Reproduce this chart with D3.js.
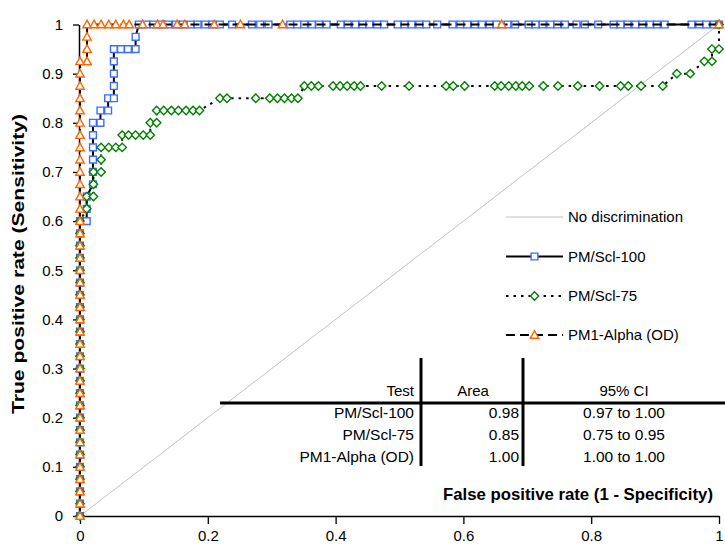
<!DOCTYPE html>
<html>
<head>
<meta charset="utf-8">
<script src="https://cdn.jsdelivr.net/npm/d3@7/dist/d3.min.js"></script>
<style>
  body { margin: 0; background: #fff; }
  text { font-family: "Liberation Sans", Arial, sans-serif; }
</style>
</head>
<body>
<svg id="chart" width="725" height="549"></svg>
<script>
// ROC points: [false positive rate, true positive rate]
let rocPm100 = [
  [0,0],[0,0.025],[0,0.05],[0,0.075],[0,0.1],[0,0.125],[0,0.15],[0,0.175],[0,0.2],
  [0,0.225],[0,0.25],[0,0.275],[0,0.3],[0,0.325],[0,0.35],[0,0.375],[0,0.4],[0,0.425],
  [0,0.45],[0,0.475],[0,0.5],[0,0.525],[0,0.55],[0,0.575],[0,0.6],
  [0.0105,0.6],[0.0105,0.625],[0.0105,0.65],[0.0203,0.675],[0.0203,0.7],[0.0203,0.725],
  [0.0203,0.75],[0.0203,0.775],[0.0203,0.8],[0.032,0.8],[0.032,0.825],[0.044,0.825],
  [0.044,0.85],[0.053,0.85],[0.053,0.875],[0.053,0.9],[0.053,0.925],[0.053,0.95],
  [0.064,0.95],[0.075,0.95],[0.087,0.95],[0.087,0.975],
  [0.092,1],[0.104,1],[0.115,1],[0.127,1],[0.138,1],[0.15,1],[0.161,1],[0.173,1],
  [0.184,1],[0.196,1],[0.207,1],[0.219,1],[0.238,1],[0.269,1],[0.282,1],[0.295,1],
  [0.329,1],[0.34,1],[0.351,1],[0.363,1],[0.374,1],[0.386,1],[0.408,1],[0.419,1],
  [0.431,1],[0.442,1],[0.453,1],[0.465,1],[0.476,1],[0.497,1],[0.508,1],[0.519,1],
  [0.531,1],[0.542,1],[0.559,1],[0.583,1],[0.595,1],[0.606,1],[0.618,1],[0.629,1],
  [0.641,1],[0.652,1],[0.669,1],[0.681,1],[0.702,1],[0.713,1],[0.724,1],[0.736,1],
  [0.747,1],[0.759,1],[0.777,1],[0.79,1],[0.811,1],[0.835,1],[0.846,1],[0.857,1],
  [0.869,1],[0.88,1],[0.892,1],[0.903,1],[0.915,1],[0.957,1],[0.969,1],[0.98,1],
  [0.992,1],[1,1]
];

let rocPm75 = [
  [0,0],[0,0.025],[0,0.05],[0,0.075],[0,0.1],[0,0.125],[0,0.15],[0,0.175],[0,0.2],
  [0,0.225],[0,0.25],[0,0.275],[0,0.3],[0,0.325],[0,0.35],[0,0.375],[0,0.4],[0,0.425],
  [0,0.45],[0,0.475],[0,0.5],[0,0.525],[0,0.55],[0,0.575],[0,0.6],
  [0.0105,0.625],[0.0105,0.65],[0.021,0.65],[0.021,0.675],[0.021,0.7],[0.033,0.7],
  [0.033,0.725],[0.033,0.75],[0.045,0.75],[0.056,0.75],[0.066,0.75],[0.066,0.775],
  [0.076,0.775],[0.087,0.775],[0.099,0.775],[0.11,0.775],[0.11,0.8],[0.12,0.8],
  [0.12,0.825],[0.131,0.825],[0.143,0.825],[0.154,0.825],[0.166,0.825],[0.177,0.825],
  [0.187,0.825],[0.219,0.85],[0.23,0.85],[0.275,0.85],[0.297,0.85],[0.309,0.85],
  [0.32,0.85],[0.331,0.85],[0.341,0.85],[0.351,0.875],[0.362,0.875],[0.373,0.875],
  [0.396,0.875],[0.407,0.875],[0.418,0.875],[0.429,0.875],[0.439,0.875],[0.472,0.875],
  [0.515,0.875],[0.573,0.875],[0.584,0.875],[0.602,0.875],[0.649,0.875],[0.659,0.875],
  [0.671,0.875],[0.682,0.875],[0.692,0.875],[0.703,0.875],[0.725,0.875],[0.748,0.875],
  [0.779,0.875],[0.813,0.875],[0.846,0.875],[0.858,0.875],[0.878,0.875],[0.912,0.875],
  [0.934,0.9],[0.955,0.9],[0.977,0.925],[0.989,0.925],[0.989,0.95],[1,0.95],[1,1]
];

let rocAlpha = [
  [0,0],[0,0.025],[0,0.05],[0,0.075],[0,0.1],[0,0.125],[0,0.15],[0,0.175],[0,0.2],
  [0,0.225],[0,0.25],[0,0.275],[0,0.3],[0,0.325],[0,0.35],[0,0.375],[0,0.4],[0,0.425],
  [0,0.45],[0,0.475],[0,0.5],[0,0.525],[0,0.55],[0,0.575],[0,0.6],[0,0.625],[0,0.65],
  [0,0.675],[0,0.7],[0,0.725],[0,0.75],[0,0.775],[0,0.8],[0,0.825],[0,0.85],[0,0.875],
  [0,0.9],[0,0.925],[0.011,0.925],[0.011,0.95],[0.011,0.975],[0.011,1],[0.022,1],
  [0.033,1],[0.045,1],[0.056,1],[0.068,1],[0.077,1],[0.098,1],[0.121,1],[0.13,1],
  [0.152,1],[0.164,1],[0.21,1],[0.251,1],[0.317,1],[0.66,1],[1,1]
];

let noDiscrimination = [[0,0],[1,1]];

let legendNames = ["No discrimination", "PM/Scl-100", "PM/Scl-75", "PM1-Alpha (OD)"];

let xTicks = [0, 0.2, 0.4, 0.6, 0.8, 1];
let xTickLabels = ["0", "0.2", "0.4", "0.6", "0.8", "1"];
let yTicks = [0, 0.1, 0.2, 0.3, 0.4, 0.5, 0.6, 0.7, 0.8, 0.9, 1];
let yTickLabels = ["0", "0.1", "0.2", "0.3", "0.4", "0.5", "0.6", "0.7", "0.8", "0.9", "1"];

let tableHeader = ["Test", "Area", "95% CI"];
let tableTests = ["PM/Scl-100", "PM/Scl-75", "PM1-Alpha (OD)"];
let tableAreas = ["0.98", "0.85", "1.00"];
let tableCIs = ["0.97 to 1.00", "0.75 to 0.95", "1.00 to 1.00"];

let xTitle = "False positive rate (1 - Specificity)";
let yTitle = "True positive rate (Sensitivity)";

let svg = d3.select("#chart");
let fontSize = 15;

let xScale = d3.scaleLinear().domain([0, 1]).range([80, 719]);
let yScale = d3.scaleLinear().domain([0, 1]).range([516, 24.5]);

let line = d3.line()
  .x((d) => xScale(d[0]))
  .y((d) => yScale(d[1]));

// marker shapes
let markerPath = {
  square: "M-3.4,-3.4H3.4V3.4H-3.4Z",
  diamond: "M0,-4.2L4.2,0L0,4.2L-4.2,0Z",
  triangle: "M0,-4.3L4.2,3.3L-4.2,3.3Z"
};

let styles = [
  { data: rocPm100, color: "#3d6bff", dash: null, marker: "square" },
  { data: rocPm75, color: "#008000", dash: "2.5,5", marker: "diamond" },
  { data: rocAlpha, color: "#ff6600", dash: "9,5", marker: "triangle" }
];

// axes
let xAxis = d3.axisBottom(xScale)
  .tickValues(xTicks)
  .tickFormat((d, i) => xTickLabels[i])
  .tickSizeInner(8)
  .tickSizeOuter(0)
  .tickPadding(6);

let yAxis = d3.axisLeft(yScale)
  .tickValues(yTicks)
  .tickFormat((d, i) => yTickLabels[i])
  .tickSizeInner(6)
  .tickSizeOuter(0)
  .tickPadding(10);

let gx = svg.append("g").attr("transform", "translate(0,516)").call(xAxis);
let gy = svg.append("g").attr("transform", "translate(79,0)").call(yAxis);

[gx, gy].forEach((g) => {
  g.selectAll("text")
    .attr("font-size", fontSize)
    .attr("font-family", "Liberation Sans, Arial, sans-serif")
    .attr("fill", "#000");
  g.selectAll("line").attr("stroke", "#000").attr("stroke-width", 1.3);
  g.select(".domain").attr("stroke", "#000").attr("stroke-width", 1.5);
});

// no discrimination line
svg.append("path")
  .attr("d", line(noDiscrimination))
  .attr("fill", "none")
  .attr("stroke", "#c0c0c0")
  .attr("stroke-width", 1);

// series
styles.forEach((s) => {
  svg.append("path")
    .attr("d", line(s.data))
    .attr("fill", "none")
    .attr("stroke", "#000")
    .attr("stroke-width", 2)
    .attr("stroke-dasharray", s.dash);

  svg.append("g")
    .selectAll("path")
    .data(s.data)
    .enter()
    .append("path")
    .attr("d", markerPath[s.marker])
    .attr("transform", (d) => "translate(" + xScale(d[0]) + "," + yScale(d[1]) + ")")
    .attr("fill", "#fff")
    .attr("stroke", s.color)
    .attr("stroke-width", 1.4);
});

// axis titles
svg.append("text")
  .attr("x", 713)
  .attr("y", 500)
  .attr("text-anchor", "end")
  .attr("font-size", 16.5)
  .attr("font-weight", "bold")
  .attr("textLength", 270)
  .attr("lengthAdjust", "spacingAndGlyphs")
  .text(xTitle);

svg.append("text")
  .attr("transform", "translate(24,264) rotate(-90)")
  .attr("text-anchor", "middle")
  .attr("font-size", 16.5)
  .attr("font-weight", "bold")
  .attr("textLength", 300)
  .attr("lengthAdjust", "spacingAndGlyphs")
  .text(yTitle);

// legend
let legend = svg.append("g");
let legendY = [217, 256.5, 296, 335];
legendNames.forEach((name, i) => {
  let ly = legendY[i];
  if (i === 0) {
    legend.append("line")
      .attr("x1", 506).attr("x2", 563).attr("y1", ly).attr("y2", ly)
      .attr("stroke", "#c0c0c0").attr("stroke-width", 1);
  } else {
    let s = styles[i - 1];
    legend.append("line")
      .attr("x1", 506).attr("x2", 563).attr("y1", ly).attr("y2", ly)
      .attr("stroke", "#000").attr("stroke-width", 2)
      .attr("stroke-dasharray", s.dash);
    legend.append("path")
      .attr("d", markerPath[s.marker])
      .attr("transform", "translate(534.5," + ly + ")")
      .attr("fill", "#fff")
      .attr("stroke", s.color)
      .attr("stroke-width", 1.4);
  }
  legend.append("text")
    .attr("x", 568)
    .attr("y", ly + 5.3)
    .attr("font-size", fontSize)
    .text(name);
});

// results table
let table = svg.append("g");
table.append("line")
  .attr("x1", 220).attr("x2", 725).attr("y1", 403).attr("y2", 403)
  .attr("stroke", "#000").attr("stroke-width", 3);
[421, 523].forEach((vx) => {
  table.append("line")
    .attr("x1", vx).attr("x2", vx).attr("y1", 358).attr("y2", 466)
    .attr("stroke", "#000").attr("stroke-width", 3);
});

let headerPos = [[414, "end"], [473, "middle"], [624, "middle"]];
tableHeader.forEach((h, i) => {
  table.append("text")
    .attr("x", headerPos[i][0])
    .attr("y", 396)
    .attr("text-anchor", headerPos[i][1])
    .attr("font-size", fontSize)
    .text(h);
});

let rowY = [418, 440, 462];
tableTests.forEach((t, i) => {
  table.append("text").attr("x", 414).attr("y", rowY[i])
    .attr("text-anchor", "end").attr("font-size", 15.5).text(t);
  table.append("text").attr("x", 519).attr("y", rowY[i])
    .attr("text-anchor", "end").attr("font-size", 15.5).text(tableAreas[i]);
  table.append("text").attr("x", 624).attr("y", rowY[i])
    .attr("text-anchor", "middle").attr("font-size", 15.5).text(tableCIs[i]);
});
</script>
</body>
</html>
